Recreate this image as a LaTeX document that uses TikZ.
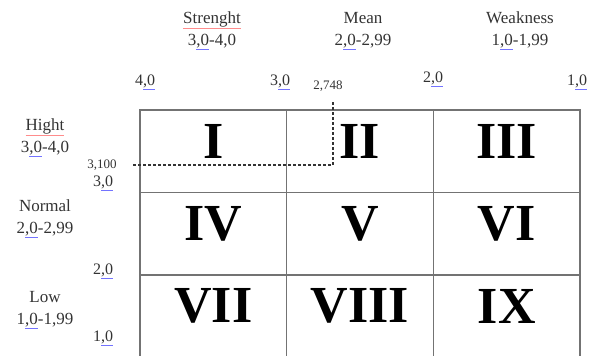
\documentclass[tikz,border=0pt]{standalone}
\usepackage{fontspec}
\setmainfont{Liberation Serif}
\usetikzlibrary{positioning}

\newcommand{\blueul}[1]{\textcolor{blue!55}{\underline{\textcolor{black!80}{#1}}}}
\newcommand{\redul}[1]{\textcolor{red!45}{\underline{\textcolor{black!80}{#1}}}}

\begin{document}
\begin{tikzpicture}[x=1pt, y=-1pt,
    every node/.style={text=black!80},
    cell/.style={draw=black!55, line width=1.1pt, minimum width=146.67pt, minimum height=82.5pt, inner sep=0pt},
    numeral/.style={font=\fontsize{52}{52}\selectfont\bfseries, text=black},
    head/.style={font=\fontsize{17}{22}\selectfont, align=center},
    tick/.style={font=\fontsize{16}{16}\selectfont},
    small/.style={font=\fontsize{13}{13}\selectfont}]
    \useasboundingbox (0,0) rectangle (595,356);

    % cells of the matrix
    \node[cell] (c1) at (213.33,151.25) {};
    \node[cell] (c2) at (360,151.25) {};
    \node[cell] (c3) at (506.67,151.25) {};
    \node[cell] (c4) at (213.33,233.75) {};
    \node[cell] (c5) at (360,233.75) {};
    \node[cell] (c6) at (506.67,233.75) {};
    \node[cell] (c7) at (213.33,316.25) {};
    \node[cell] (c8) at (360,316.25) {};
    \node[cell] (c9) at (506.67,316.25) {};

    \node[numeral] at ([yshift=10pt]c1.center) {I};
    \node[numeral] at ([yshift=10pt]c2.center) {II};
    \node[numeral] at ([yshift=10pt]c3.center) {III};
    \node[numeral] at ([yshift=10pt]c4.center) {IV};
    \node[numeral] at ([yshift=10pt]c5.center) {V};
    \node[numeral] at ([yshift=10pt]c6.center) {VI};
    \node[numeral] at ([yshift=10pt]c7.center) {VII};
    \node[numeral] at ([yshift=10pt]c8.center) {VIII};
    \node[numeral] at ([yshift=10pt]c9.center) {IX};

    % column heads
    \node[head] (strong) at (212,31) {\redul{Strenght}\\3\blueul{,0}-4,0};
    \node[head] (mean) at (363,31) {Mean\\2\blueul{,0}-2,99};
    \node[head] (weak) at (520,31) {Weakness\\1\blueul{,0}-1,99};

    % row heads
    \node[head] (high) at (45,138) {\redul{Hight}\\3\blueul{,0}-4,0};
    \node[head] (normal) at (45,219) {Normal\\2\blueul{,0}-2,99};
    \node[head] (low) at (45,310) {Low\\1\blueul{,0}-1,99};

    % scale values
    \node[tick] (x4) at (145,82) {4\blueul{,0}};
    \node[tick] (x3) at (280,82) {3\blueul{,0}};
    \node[tick] (x2) at (433,79) {2\blueul{,0}};
    \node[tick] (x1) at (577,82) {1\blueul{,0}};
    \node[tick] (y3) at (103,183) {3\blueul{,0}};
    \node[tick] (y2) at (103,271) {2\blueul{,0}};
    \node[tick] (y1) at (103,338) {1\blueul{,0}};

    % position of the score
    \node[small] (sx) at (328,86) {2,748};
    \node[small] (sy) at (102,165) {3,100};
    \coordinate (sp) at (333,165);
    \coordinate (st) at (333,101);
    \draw[black!80, line width=1.4pt, dash pattern=on 3pt off 2pt] (sy.east) ++(13,0) -- (sp) -- (st);
\end{tikzpicture}
\end{document}
